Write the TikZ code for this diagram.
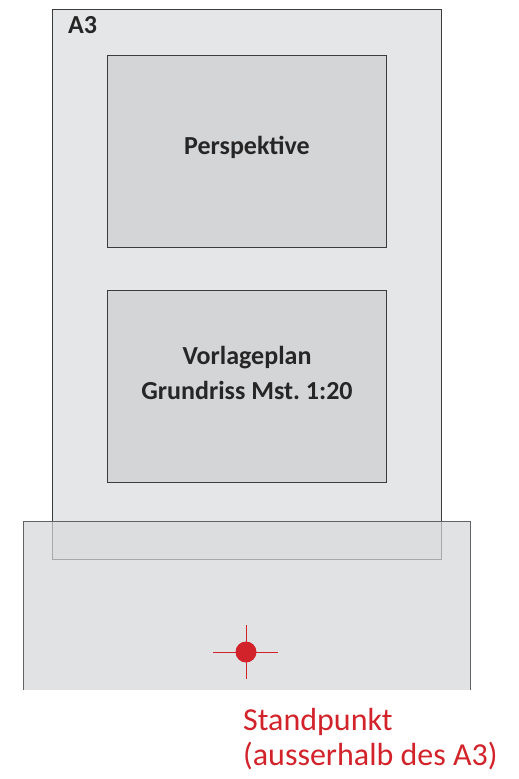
\documentclass[tikz,border=0pt]{standalone}
\usepackage{fontspec}
\setmainfont{Carlito}
\frenchspacing
\definecolor{pagefill}{HTML}{E5E6E8}
\definecolor{boxfill}{HTML}{D4D5D7}
\definecolor{lowfill}{HTML}{E1E2E4}
\definecolor{overfill}{HTML}{DCDDDF}
\definecolor{edge}{HTML}{3C3C3C}
\definecolor{faint}{HTML}{A8A9AB}
\definecolor{spred}{HTML}{D2232A}
\tikzset{
  panel/.style={draw=edge, line width=1pt, fill=boxfill},
  lbl/.style={font=\bfseries\fontsize{26}{35}\selectfont, text=black!85, align=center},
}
\begin{document}
\begin{tikzpicture}[x=1pt,y=-1pt]
\useasboundingbox (0,0) rectangle (519,779);
% A3 sheet
\path[fill=pagefill, draw=edge, line width=1pt] (52,9) rectangle (441,559);
\node[anchor=north west, font=\bfseries\fontsize{26}{30}\selectfont, text=black!85, inner sep=0pt] (a3) at (68,16) {A3};
% inner panels
\node[panel, minimum width=279pt, minimum height=192pt, anchor=north west, inner sep=0pt] (persp) at (107,55) {};
\node[lbl] at ([yshift=4pt]persp.center) {Perspektive};
\node[panel, minimum width=279pt, minimum height=192pt, anchor=north west, inner sep=0pt] (plan) at (107,290) {};
\node[lbl] at ([yshift=14pt]plan.center) {Vorlageplan\\Grundriss Mst. 1:20};
% lower area (semi-transparent overlay)
\fill[lowfill] (23,521) rectangle (470,690);
\fill[overfill] (52,521) rectangle (441,559);
\draw[faint, line width=1pt] (52,521) -- (52,559) -- (441,559) -- (441,521);
\draw[edge!80, line width=1pt] (23,690) -- (23,521) -- (470,521) -- (470,690);
% Standpunkt marker
\coordinate (sp) at (246,652);
\draw[spred, line width=0.9pt] ([xshift=-33pt]sp) -- ([xshift=32pt]sp);
\draw[spred, line width=0.9pt] ([yshift=-27pt]sp) -- ([yshift=27pt]sp);
\fill[spred] (sp) circle (10.5pt);
\node[anchor=north west, text=spred, font=\fontsize{32}{35}\selectfont, align=left, inner sep=0pt] (lab) at (243,708) {Standpunkt\\(ausserhalb des A3)};
\end{tikzpicture}
\end{document}
